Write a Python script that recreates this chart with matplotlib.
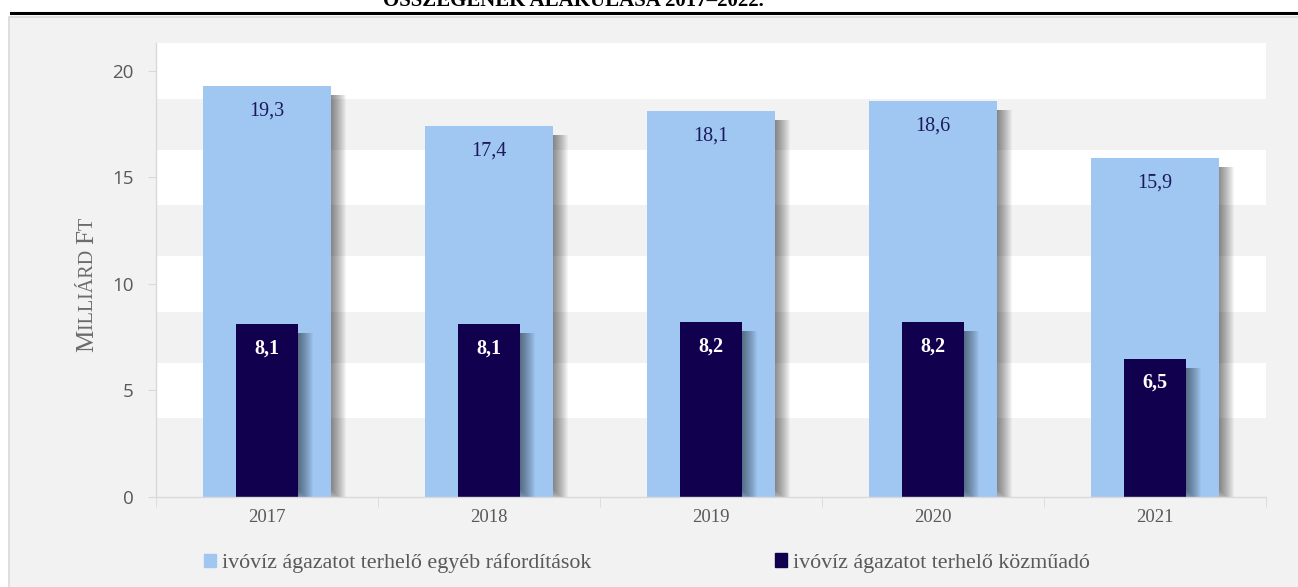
import matplotlib
matplotlib.use("Agg")
import matplotlib.pyplot as plt
from matplotlib.patches import Rectangle
from matplotlib.lines import Line2D

# ---- data ----
years = ["2017", "2018", "2019", "2020", "2021"]
other_costs = [19.3, 17.4, 18.1, 18.6, 15.9]
utility_tax = [8.1, 8.1, 8.2, 8.2, 6.5]
other_labels = ["19,3", "17,4", "18,1", "18,6", "15,9"]
tax_labels = ["8,1", "8,1", "8,2", "8,2", "6,5"]
series_names = ["ivóvíz ágazatot terhelő egyéb ráfordítások",
                "ivóvíz ágazatot terhelő közműadó"]
yticks = [0, 5, 10, 15, 20]
title_text = "ÖSSZEGÉNEK ALAKULÁSA 2017–2022."

LIGHT = "#a0c6f2"
DARK = "#10004e"
GRAY_TXT = "#595959"
SERIF = ["Liberation Serif", "DejaVu Serif"]
SANS = ["Open Sans", "DejaVu Sans"]

W, H = 1298, 587
fig = plt.figure(figsize=(W / 100, H / 100), dpi=100)
fig.patch.set_facecolor("white")


def fx(px):
    return px / W


def fy(py):
    return 1 - py / H


# outer grey chart box
fig.patches.append(Rectangle((fx(9), -0.01), fx(W - 9) + 0.01, fy(17) + 0.01,
                             transform=fig.transFigure, facecolor="#f2f2f2",
                             edgecolor="#d9d9d9", linewidth=1.2, zorder=-5))
# black rule and cut-off title
fig.add_artist(Line2D([fx(11), 1], [fy(13), fy(13)], transform=fig.transFigure,
                      color="black", linewidth=2.2))
fig.text(fx(573), fy(6.5), title_text, ha="center", va="baseline", fontsize=15,
         fontweight="bold", family=SERIF, color="black")

ax = fig.add_axes([fx(156), fy(497), fx(1266) - fx(156), fy(43.3) - fy(497)])
ax.set_facecolor("#f2f2f2")
ax.set_xlim(-0.5, 4.5)
ax.set_ylim(0, 21.3)

# white bands (thick gridlines)
for t in yticks[1:]:
    ax.axhspan(t - 1.3, t + 1.3, color="white", zorder=0.5, linewidth=0)

x = list(range(len(years)))
w_light, w_dark = 0.58, 0.28


def draw_shadow(xs, heights, width, zorder):
    sx = ax.transData.transform((1, 0))[0] - ax.transData.transform((0, 0))[0]
    sy = ax.transData.transform((0, 1))[1] - ax.transData.transform((0, 0))[1]
    dxp, dyp = 8, -9
    for r in range(-7, 8):
        ax.bar([xi + dxp / sx for xi in xs],
               [h + (dyp + r) / sy for h in heights],
               width=width + 2 * r / sx, bottom=-r / sy,
               color="black", alpha=0.036, linewidth=0, zorder=zorder)


draw_shadow(x, other_costs, w_light, 1)
b1 = ax.bar(x, other_costs, width=w_light, color=LIGHT, linewidth=0, zorder=2,
            label=series_names[0])
draw_shadow(x, utility_tax, w_dark, 3)
b2 = ax.bar(x, utility_tax, width=w_dark, color=DARK, linewidth=0, zorder=4,
            label=series_names[1])

for xi, v, lab in zip(x, other_costs, other_labels):
    ax.annotate(lab, (xi, v), xytext=(0, -18), textcoords="offset points",
                ha="center", va="center", fontsize=14.5, family=SERIF,
                color="#1c1a5c", zorder=6)
for xi, v, lab in zip(x, utility_tax, tax_labels):
    ax.annotate(lab, (xi, v), xytext=(0, -17.5), textcoords="offset points",
                ha="center", va="center", fontsize=14.5, family=SERIF,
                fontweight="bold", color="white", zorder=6)

# axes styling
for s in ["top", "right"]:
    ax.spines[s].set_visible(False)
for s in ["left", "bottom"]:
    ax.spines[s].set_color("#d9d9d9")
    ax.spines[s].set_linewidth(1.0)
    ax.spines[s].set_zorder(5)
ax.set_yticks(yticks)
ax.set_yticklabels([str(t) for t in yticks], family=SANS, fontsize=13.5, color=GRAY_TXT)
ax.tick_params(axis="y", length=6, color="#d9d9d9", pad=10)
ax.set_xticks(x)
ax.set_xticklabels(years, family=SERIF, fontsize=13.5, color=GRAY_TXT)
ax.tick_params(axis="x", which="major", length=0, pad=9)
ax.set_xticks([i - 0.5 for i in range(len(years) + 1)], minor=True)
ax.tick_params(axis="x", which="minor", length=7, color="#d9d9d9")

# y label in small caps (pieces stacked bottom to top)
pieces = [("M", 18), ("ILLIÁRD ", 14.5), ("F", 18), ("T", 14.5)]
fig.canvas.draw()
rend = fig.canvas.get_renderer()
ycur = 352
for txt, size in pieces:
    t = fig.text(fx(98), fy(ycur), txt, rotation=90, ha="right", va="bottom",
                 fontsize=size, family=SERIF, color="#6b6b6b")
    bb = t.get_window_extent(renderer=rend)
    ycur -= bb.height

# legends
h1 = Rectangle((0, 0), 1, 1, color=LIGHT)
h2 = Rectangle((0, 0), 1, 1, color=DARK)
for h, name, px in [(h1, series_names[0], 204), (h2, series_names[1], 775)]:
    leg = fig.legend([h], [name], loc="center left", bbox_to_anchor=(fx(px), fy(563)),
                     frameon=False, borderpad=0, borderaxespad=0, handlelength=0.55,
                     handleheight=0.55, handletextpad=0.25,
                     prop={"family": SERIF, "size": 15.8})
    for t in leg.get_texts():
        t.set_color(GRAY_TXT)

fig.savefig("out.png", dpi=100, facecolor="white")
